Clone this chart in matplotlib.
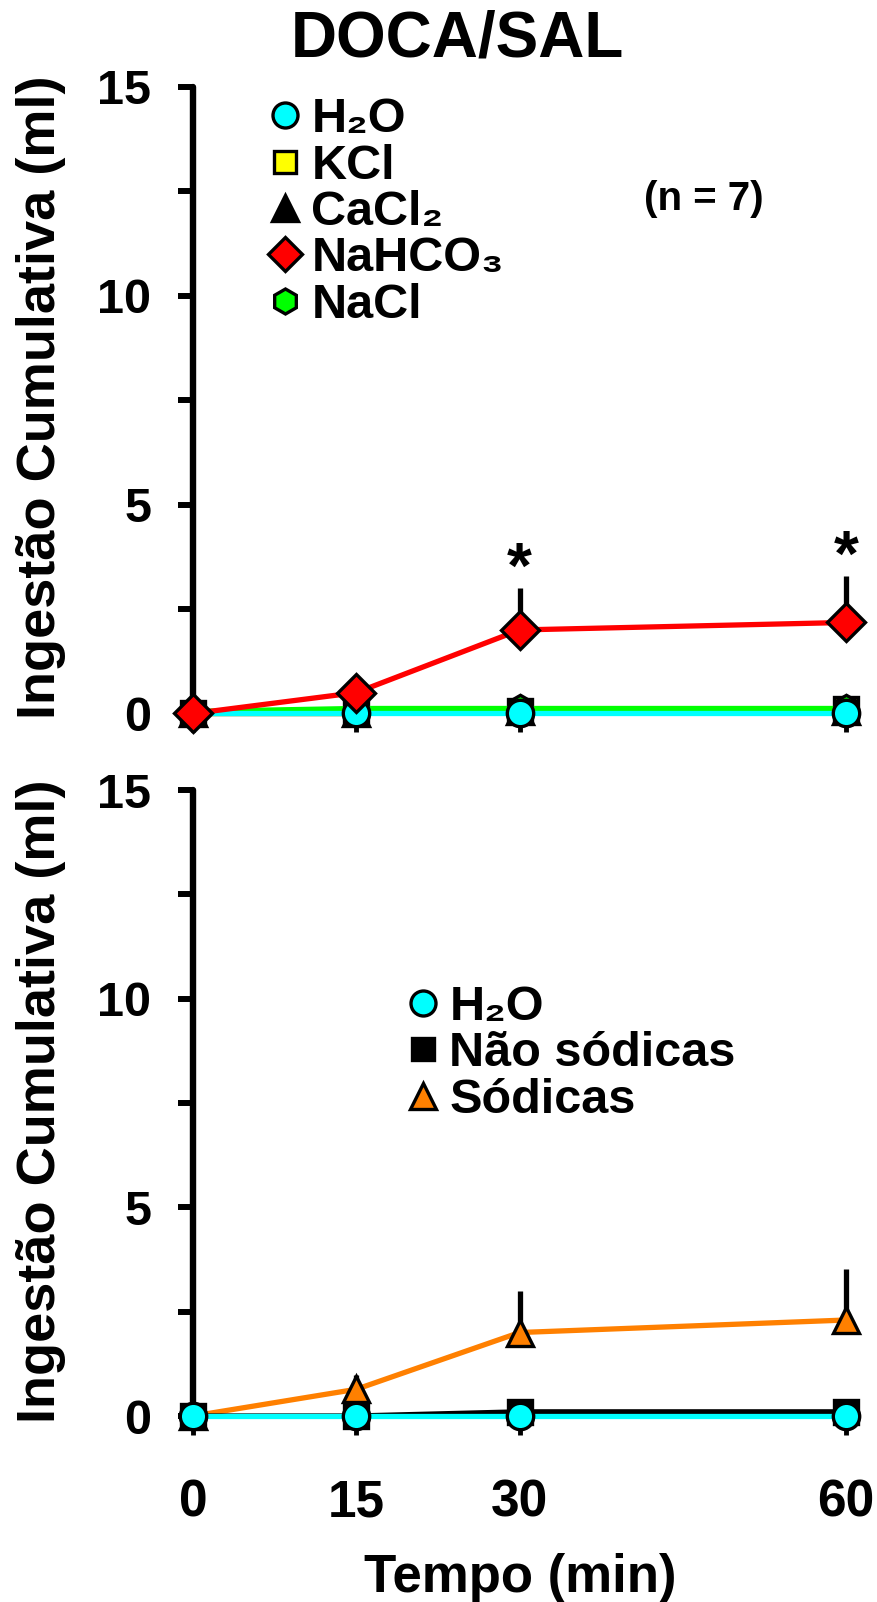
import matplotlib
matplotlib.use("Agg")
import matplotlib.pyplot as plt
from matplotlib.lines import Line2D

plt.rcParams.update(
    {
        "font.family": ["Liberation Sans", "DejaVu Sans"],
        "font.weight": "bold",
        "axes.labelweight": "bold",
    }
)

# ---- data ----
tempo = [0, 15, 30, 60]

# top panel (DOCA/SAL, n = 7)
h2o_top = [0.0, 0.0, 0.0, 0.0]
kcl_top = [0.0, 0.0, 0.05, 0.1]
cacl2_top = [0.0, 0.0, 0.05, 0.05]
nahco3_top = [0.0, 0.5, 2.0, 2.18]
nahco3_top_err = [0.0, 0.0, 1.0, 1.12]
nacl_top = [0.05, 0.12, 0.12, 0.12]
signif_top = [False, False, True, True]

# bottom panel
h2o_bot = [0.0, 0.0, 0.0, 0.0]
nao_sodicas = [0.0, 0.0, 0.1, 0.1]
sodicas = [0.0, 0.64, 2.0, 2.3]
sodicas_err = [0.0, 0.34, 1.0, 1.23]

y_major = [0, 5, 10, 15]
y_minor = [2.5, 7.5, 12.5]
x_labels = ["0", "15", "30", "60"]

CYAN = "#00FFFF"
YELLOW = "#FFFF00"
RED = "#FF0000"
GREEN = "#00FF00"
ORANGE = "#FF8000"

W, H = 877, 1602
fig = plt.figure(figsize=(W / 100, H / 100), dpi=100)


def px_axes(left, right, top, bottom):
    return fig.add_axes([left / W, 1 - bottom / H, (right - left) / W, (bottom - top) / H])


ax1 = px_axes(193, 846, 87, 713.5)
ax2 = px_axes(193, 846, 790, 1416)

MS = 19
MEW = 2.4
LW = 3.8


def style_axes(ax, show_xlabels):
    ax.set_xlim(0, 60)
    ax.set_ylim(0, 15)
    ax.spines["top"].set_visible(False)
    ax.spines["right"].set_visible(False)
    ax.spines["left"].set_linewidth(4.6)
    ax.spines["left"].set_capstyle("round")
    ax.spines["bottom"].set_linewidth(1.5)
    ax.spines["bottom"].set_zorder(0.5)
    ax.set_yticks(y_major)
    ax.set_yticks(y_minor, minor=True)
    ax.set_yticklabels([str(v) for v in y_major], fontsize=35, fontweight="bold")
    ax.tick_params(axis="y", which="both", direction="out", length=11, width=4.3, pad=19)
    ax.set_xticks(tempo)
    ax.tick_params(axis="x", direction="out", length=14, width=3.5, pad=31)
    if show_xlabels:
        ax.set_xticklabels(x_labels, fontsize=37, fontweight="bold")
    else:
        ax.set_xticklabels([])


def series(ax, y, marker, color, lcolor=None, ms=MS, z=3):
    ax.plot(tempo, y, color=lcolor or color, lw=LW, marker=marker, ms=ms,
            mfc=color, mec="black", mew=MEW, clip_on=False, zorder=z)


# ---- top panel ----
style_axes(ax1, False)
series(ax1, kcl_top, "s", YELLOW, ms=17, z=3)
series(ax1, cacl2_top, "^", "black", z=3.1)
series(ax1, nacl_top, "h", GREEN, z=3.2)
series(ax1, h2o_top, "o", CYAN, z=3.3)
ax1.errorbar(tempo, nahco3_top, yerr=[[0] * 4, nahco3_top_err], fmt="none",
             ecolor="black", elinewidth=3.8, capsize=0, zorder=3.35, clip_on=False)
series(ax1, nahco3_top, "D", RED, ms=19, z=3.4)
for x, m, e, s in zip(tempo, nahco3_top, nahco3_top_err, signif_top):
    if s:
        ax1.text(x, m + e + 0.0, "*", ha="center", va="baseline",
                 fontsize=46, fontweight="bold")

leg1 = [
    Line2D([], [], ls="none", marker="o", ms=18, mfc=CYAN, mec="black", mew=MEW, label="H₂O"),
    Line2D([], [], ls="none", marker="s", ms=16, mfc=YELLOW, mec="black", mew=MEW, label="KCl"),
    Line2D([], [], ls="none", marker="^", ms=19, mfc="black", mec="black", mew=MEW, label="CaCl₂"),
    Line2D([], [], ls="none", marker="D", ms=17, mfc=RED, mec="black", mew=MEW, label="NaHCO₃"),
    Line2D([], [], ls="none", marker="h", ms=18, mfc=GREEN, mec="black", mew=MEW, label="NaCl"),
]
fs_leg = 35
fs_px = fs_leg * 100 / 72
hl = 0.55
fig.legend(handles=leg1, loc="center left",
           bbox_to_anchor=((285 - hl * fs_px / 2) / W, 1 - 212.5 / H),
           frameon=False, handlelength=hl, handletextpad=0.27,
           labelspacing=0.03, borderpad=0, borderaxespad=0, prop={"weight": "bold", "size": fs_leg})

fig.text(704 / W, 1 - 199 / H, "(n = 7)", ha="center", va="center", fontsize=29, fontweight="bold")
fig.text(457 / W, 1 - 39 / H, "DOCA/SAL", ha="center", va="center", fontsize=46, fontweight="bold")

# ---- bottom panel ----
style_axes(ax2, True)
ax2.errorbar(tempo, sodicas, yerr=[[0] * 4, sodicas_err], fmt="none",
             ecolor="black", elinewidth=3.8, capsize=0, zorder=2.9, clip_on=False)
series(ax2, sodicas, "^", ORANGE, z=3)
series(ax2, nao_sodicas, "s", "black", ms=17, z=3.1)
series(ax2, h2o_bot, "o", CYAN, z=3.2)

leg2 = [
    Line2D([], [], ls="none", marker="o", ms=18, mfc=CYAN, mec="black", mew=MEW, label="H₂O"),
    Line2D([], [], ls="none", marker="s", ms=16, mfc="black", mec="black", mew=MEW, label="Não sódicas"),
    Line2D([], [], ls="none", marker="^", ms=19, mfc=ORANGE, mec="black", mew=MEW, label="Sódicas"),
]
fig.legend(handles=leg2, loc="center left",
           bbox_to_anchor=((423 - hl * fs_px / 2) / W, 1 - 1054 / H),
           frameon=False, handlelength=hl, handletextpad=0.27,
           labelspacing=0.03, borderpad=0, borderaxespad=0, prop={"weight": "bold", "size": fs_leg})

ylab = "Ingestão Cumulativa (ml)"
fig.text(41 / W, 1 - 397 / H, ylab, rotation=90, ha="center", va="center", fontsize=39, fontweight="bold")
fig.text(41 / W, 1 - 1101 / H, ylab, rotation=90, ha="center", va="center", fontsize=39, fontweight="bold")
fig.text(520 / W, 1 - 1578 / H, "Tempo (min)", ha="center", va="center", fontsize=38, fontweight="bold")

fig.savefig("out.png", dpi=100)
